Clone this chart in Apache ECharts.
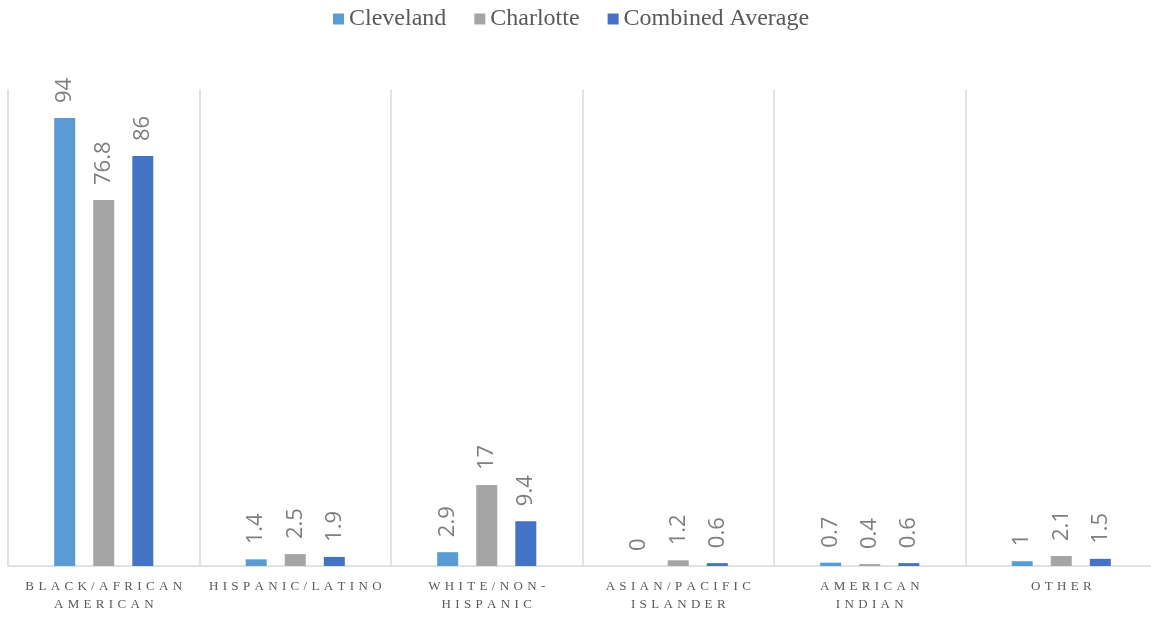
<!DOCTYPE html>
<html>
<head>
<meta charset="utf-8">
<script src="https://cdn.jsdelivr.net/npm/echarts@6/dist/echarts.min.js"></script>
<style>html,body{margin:0;padding:0;background:#fff}#c{width:1151px;height:618px}</style>
</head>
<body>
<div id="c"></div>
<script>
const categories = ['BLACK/AFRICAN\nAMERICAN', 'HISPANIC/LATINO', 'WHITE/NON-\nHISPANIC', 'ASIAN/PACIFIC\nISLANDER', 'AMERICAN\nINDIAN', 'OTHER'];
const seriesNames = ['Cleveland', 'Charlotte', 'Combined Average'];
const cleveland = [94, 1.4, 2.9, 0, 0.7, 1];
const charlotte = [76.8, 2.5, 17, 1.2, 0.4, 2.1];
const combined = [86, 1.9, 9.4, 0.6, 0.6, 1.5];
const colors = ['#5B9BD5', '#A5A5A5', '#4472C4'];

function spaced(s) {
  return s.split('\n').map(l => l.split('').join(' \u200A')).join('\n');
}
const labelCfg = {
  show: true, position: 'top', rotate: 90, align: 'left', verticalAlign: 'middle',
  distance: 15, color: '#7F7F7F', fontFamily: 'Open Sans', fontSize: 22
};
const chart = echarts.init(document.getElementById('c'));
chart.setOption({
  animation: false,
  color: colors,
  legend: {
    top: 2, left: 328, itemWidth: 11, itemHeight: 11, itemGap: 28,
    icon: 'rect',
    textStyle: { fontFamily: 'Liberation Serif', fontSize: 24, color: '#595959' },
    data: seriesNames
  },
  grid: { left: 8, width: 1149, top: 89.4, bottom: 52, containLabel: false, outerBoundsMode: 'none' },
  xAxis: {
    type: 'category', data: categories,
    axisLine: { lineStyle: { color: '#D9D9D9', width: 1.5 } },
    axisTick: { show: false },
    splitLine: { show: true, lineStyle: { color: '#D9D9D9', width: 1.5 } },
    axisLabel: {
      interval: 0, color: '#595959', fontFamily: 'Liberation Serif', fontSize: 13,
      lineHeight: 18, margin: 12, formatter: v => spaced(v)
    }
  },
  yAxis: { type: 'value', min: 0, max: 100, show: false, splitLine: { show: false } },
  series: [
    { name: seriesNames[0], type: 'bar', data: cleveland, barWidth: 21, barGap: '86%', label: labelCfg },
    { name: seriesNames[1], type: 'bar', data: charlotte, barWidth: 21, barGap: '86%', label: labelCfg },
    { name: seriesNames[2], type: 'bar', data: combined, barWidth: 21, barGap: '86%', label: labelCfg }
  ]
});
</script>
</body>
</html>
